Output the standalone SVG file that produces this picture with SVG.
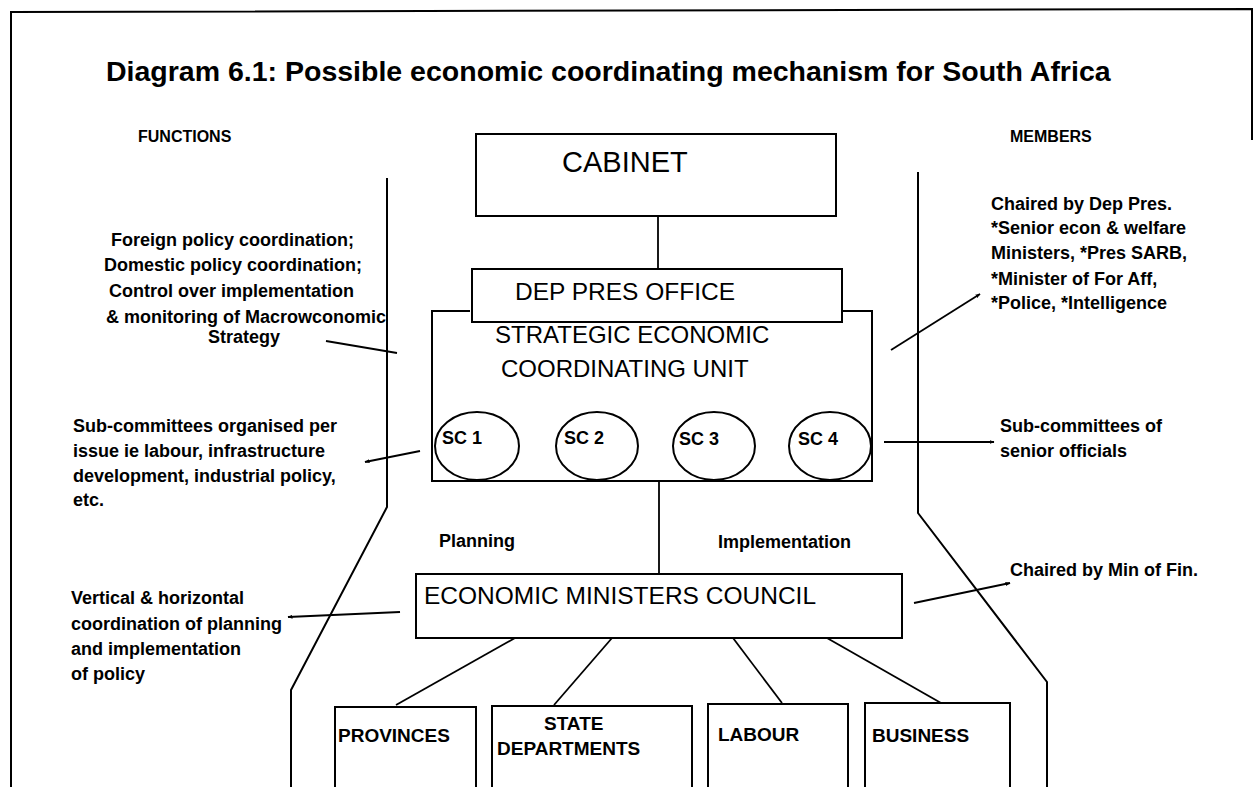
<svg xmlns="http://www.w3.org/2000/svg" width="1257" height="787" viewBox="0 0 1257 787">
<defs>
<marker id="arr" viewBox="0 0 10 10" refX="9" refY="5" markerWidth="5" markerHeight="5" orient="auto" markerUnits="userSpaceOnUse">
<path d="M0,1 L10,5 L0,9 z" fill="#000"/>
</marker>
<style>
text{font-family:"Liberation Sans",Arial,sans-serif;fill:#000}
.title{font-size:28.5px;font-weight:bold}
.lbl{font-size:18px;font-weight:bold}
.hdr{font-size:16px;font-weight:bold}
.big{font-size:24.5px}
.sub{font-size:19px;font-weight:bold}
.box{fill:#fff;stroke:#000;stroke-width:2}
.ln{fill:none;stroke:#000;stroke-width:2}
.conn{fill:none;stroke:#000;stroke-width:1.8}
</style>
</defs>
<rect width="1257" height="787" fill="#fff"/>
<g id="frame">
<path class="ln" d="M11,787 L11,12 L1252,9 L1252,140" stroke-width="2.5"/>
</g>
<text class="title" x="106" y="81">Diagram 6.1: Possible economic coordinating mechanism for South Africa</text>
<text class="hdr" x="138" y="142">FUNCTIONS</text>
<text class="hdr" x="1010" y="142">MEMBERS</text>
<g id="side-lines">
<path class="ln" d="M387,178 L387,507 L291,690 L291,787"/>
<path class="ln" d="M918,172 L918,513 L1047,682 L1047,787"/>
</g>
<g id="connectors">
<line class="conn" x1="658" y1="216" x2="658" y2="275"/>
<line class="conn" x1="659" y1="481" x2="659" y2="574"/>
<line class="conn" x1="515" y1="638" x2="396" y2="705"/>
<line class="conn" x1="612" y1="638" x2="554" y2="705"/>
<line class="conn" x1="733" y1="638" x2="782" y2="703"/>
<line class="conn" x1="827" y1="638" x2="941" y2="703"/>
<line class="conn" x1="326" y1="341" x2="397" y2="353"/>
<line class="conn" x1="891" y1="350" x2="980" y2="294" marker-end="url(#arr)"/>
<line class="conn" x1="420" y1="451" x2="365" y2="462" marker-end="url(#arr)"/>
<line class="conn" x1="884" y1="442" x2="994" y2="442" marker-end="url(#arr)"/>
<line class="conn" x1="400" y1="612" x2="288" y2="617" marker-end="url(#arr)"/>
<line class="conn" x1="914" y1="603" x2="1010" y2="583" marker-end="url(#arr)"/>
</g>
<g id="cabinet">
<rect class="box" x="476" y="134" width="360" height="82"/>
<text x="562" y="172" style="font-size:29px">CABINET</text>
</g>
<g id="secu">
<path class="ln" d="M470,311 L432,311 L432,481 L872,481 L872,311 L842,311"/>
<text class="big" x="495" y="343" style="font-size:24px">STRATEGIC ECONOMIC</text>
<text class="big" x="501" y="377" style="font-size:24px">COORDINATING UNIT</text>
</g>
<g id="dep-pres">
<rect class="box" x="472" y="269" width="370" height="53"/>
<text class="big" x="515" y="300">DEP PRES OFFICE</text>
</g>
<g id="sc1">
<ellipse class="ln" cx="477" cy="446" rx="42" ry="34"/>
<text class="lbl" x="442" y="444">SC 1</text>
</g>
<g id="sc2">
<ellipse class="ln" cx="597" cy="446" rx="41" ry="34"/>
<text class="lbl" x="564" y="444">SC 2</text>
</g>
<g id="sc3">
<ellipse class="ln" cx="714" cy="446" rx="41" ry="34"/>
<text class="lbl" x="679" y="445">SC 3</text>
</g>
<g id="sc4">
<ellipse class="ln" cx="830" cy="446" rx="41" ry="34"/>
<text class="lbl" x="798" y="445">SC 4</text>
</g>
<g id="emc">
<rect class="box" x="416" y="574" width="486" height="64"/>
<text class="big" x="424" y="604">ECONOMIC MINISTERS COUNCIL</text>
</g>
<g id="provinces">
<path class="ln" d="M335,790 L335,707 L476,707 L476,790"/>
<text class="sub" x="338" y="742">PROVINCES</text>
</g>
<g id="state-departments">
<path class="ln" d="M492,790 L492,706 L692,706 L692,790"/>
<text class="sub" x="544" y="730">STATE</text>
<text class="sub" x="497" y="755">DEPARTMENTS</text>
</g>
<g id="labour">
<path class="ln" d="M708,790 L708,704 L848,704 L848,790"/>
<text class="sub" x="718" y="741">LABOUR</text>
</g>
<g id="business">
<path class="ln" d="M865,790 L865,703 L1010,703 L1010,790"/>
<text class="sub" x="872" y="742">BUSINESS</text>
</g>
<g id="functions-text">
<text class="lbl" x="111" y="246">Foreign policy coordination;</text>
<text class="lbl" x="104" y="271">Domestic policy coordination;</text>
<text class="lbl" x="109" y="297">Control over implementation</text>
<text class="lbl" x="106" y="323">&amp; monitoring of Macrowconomic</text>
<text class="lbl" x="208" y="343">Strategy</text>
<text class="lbl" x="73" y="432">Sub-committees organised per</text>
<text class="lbl" x="73" y="457">issue ie labour, infrastructure</text>
<text class="lbl" x="73" y="482">development, industrial policy,</text>
<text class="lbl" x="73" y="506">etc.</text>
<text class="lbl" x="71" y="604">Vertical &amp; horizontal</text>
<text class="lbl" x="71" y="630">coordination of planning</text>
<text class="lbl" x="71" y="655">and implementation</text>
<text class="lbl" x="71" y="680">of policy</text>
</g>
<g id="flow-labels">
<text class="lbl" x="439" y="547">Planning</text>
<text class="lbl" x="718" y="548">Implementation</text>
</g>
<g id="members-text">
<text class="lbl" x="991" y="210">Chaired by Dep Pres.</text>
<text class="lbl" x="991" y="234">*Senior econ &amp; welfare</text>
<text class="lbl" x="991" y="259">Ministers, *Pres SARB,</text>
<text class="lbl" x="991" y="285">*Minister of For Aff,</text>
<text class="lbl" x="991" y="309">*Police, *Intelligence</text>
<text class="lbl" x="1000" y="432">Sub-committees of</text>
<text class="lbl" x="1000" y="457">senior officials</text>
<text class="lbl" x="1010" y="576">Chaired by Min of Fin.</text>
</g>
</svg>
